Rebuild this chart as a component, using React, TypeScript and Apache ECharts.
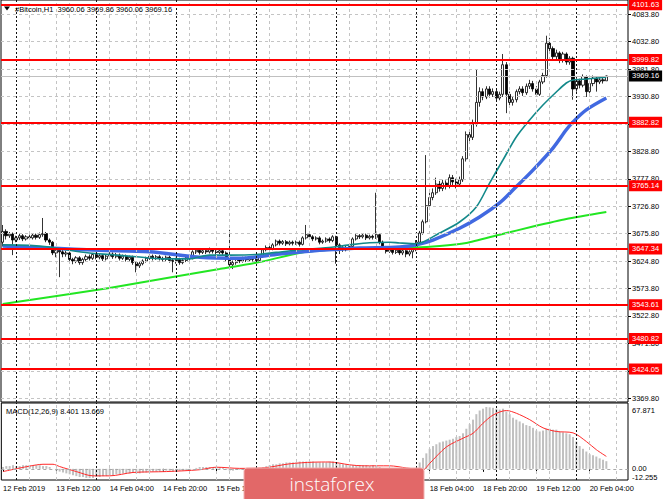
import React, { useEffect, useRef } from "react";
import * as echarts from "echarts";

const FONT = "'Liberation Sans', Arial, sans-serif";

// ---- time axis ----
const firstBarTime = Date.UTC(2019, 1, 12, 20, 0);
const slotCount = 188; // 182 bars + empty shift on the right
function pad(n: number) {
  return n < 10 ? "0" + n : "" + n;
}
const categories: string[] = Array.from({ length: slotCount }, (_, i) => {
  const d = new Date(firstBarTime + i * 3600000);
  return `${d.getUTCFullYear()}.${pad(d.getUTCMonth() + 1)}.${pad(d.getUTCDate())} ${pad(d.getUTCHours())}:00`;
});

const timeTickIndex = [0, 16, 32, 48, 64, 128, 144, 160, 176];
const timeTickText = [
  "12 Feb 2019",
  "13 Feb 12:00",
  "14 Feb 04:00",
  "14 Feb 20:00",
  "15 Feb 12:00",
  "18 Feb 04:00",
  "18 Feb 20:00",
  "19 Feb 12:00",
  "20 Feb 04:00",
];

const daySeparators = [4, 28, 52, 76, 100, 124, 148, 172];
const gridVerticals = [8, 16, 20, 32, 40, 44, 56, 64, 68, 80, 88, 92, 104, 112, 116, 128, 136, 140, 152, 160, 164, 176, 184];

// ---- price axis ----
const priceMin = 3362.8;
const priceMax = 4110.4;
const priceGrid = [4083.8, 4032.8, 3981.8, 3930.8, 3879.8, 3828.8, 3777.8, 3726.8, 3675.8, 3624.8, 3573.8, 3522.8, 3471.8, 3420.8, 3369.8];
const priceLabels = [4083.8, 4032.8, 3981.8, 3930.8, 3828.8, 3777.8, 3726.8, 3675.8, 3624.8, 3573.8, 3522.8, 3471.8, 3420.8, 3369.8];
const levelLines = [4101.63, 3999.82, 3882.82, 3765.14, 3647.34, 3543.61, 3480.82, 3424.05];
const lastPrice = 3969.16;

// ---- candles: [open, close, low, high] ----
const candles: number[][] = [
  [3660, 3680, 3652, 3692], [3680, 3672, 3665, 3684], [3672, 3675, 3668, 3679], [3675, 3664, 3636, 3678],
  [3664, 3668, 3660, 3672], [3668, 3672, 3664, 3676], [3672, 3666, 3662, 3675], [3666, 3670, 3663, 3673],
  [3670, 3668, 3664, 3674], [3668, 3673, 3665, 3677], [3673, 3669, 3665, 3676], [3669, 3674, 3666, 3678],
  [3674, 3676, 3670, 3705], [3676, 3664, 3660, 3679], [3664, 3660, 3655, 3667], [3660, 3640, 3636, 3662],
  [3640, 3645, 3632, 3648], [3645, 3642, 3595, 3649], [3642, 3638, 3632, 3646], [3638, 3640, 3633, 3644],
  [3640, 3628, 3624, 3643], [3628, 3625, 3619, 3631], [3625, 3631, 3621, 3634], [3631, 3622, 3618, 3634],
  [3622, 3628, 3618, 3631], [3628, 3633, 3625, 3637], [3633, 3630, 3626, 3637], [3630, 3637, 3627, 3640],
  [3637, 3632, 3628, 3640], [3632, 3635, 3628, 3639], [3635, 3629, 3625, 3638], [3629, 3634, 3626, 3637],
  [3634, 3638, 3630, 3642], [3638, 3633, 3629, 3641], [3633, 3636, 3630, 3640], [3636, 3630, 3626, 3639],
  [3630, 3634, 3627, 3637], [3634, 3628, 3624, 3637], [3628, 3632, 3625, 3635], [3632, 3622, 3618, 3635],
  [3622, 3616, 3604, 3625], [3616, 3620, 3612, 3624], [3620, 3625, 3617, 3628], [3625, 3630, 3622, 3633],
  [3630, 3634, 3627, 3637], [3634, 3630, 3626, 3637], [3630, 3633, 3627, 3636], [3633, 3630, 3626, 3636],
  [3630, 3628, 3624, 3633], [3628, 3632, 3625, 3635], [3632, 3626, 3622, 3635], [3626, 3624, 3604, 3629],
  [3624, 3628, 3620, 3631], [3628, 3622, 3618, 3631], [3622, 3626, 3619, 3629], [3626, 3632, 3623, 3635],
  [3632, 3630, 3626, 3635], [3630, 3642, 3628, 3645], [3642, 3645, 3638, 3649], [3645, 3641, 3637, 3648],
  [3641, 3644, 3638, 3648], [3644, 3642, 3638, 3647], [3642, 3646, 3639, 3650], [3646, 3643, 3639, 3649],
  [3643, 3641, 3637, 3647], [3641, 3644, 3638, 3648], [3644, 3640, 3636, 3647], [3640, 3628, 3624, 3643],
  [3628, 3618, 3610, 3683], [3618, 3622, 3610, 3626], [3622, 3628, 3618, 3631], [3628, 3625, 3621, 3631],
  [3625, 3630, 3622, 3633], [3630, 3627, 3623, 3633], [3627, 3631, 3624, 3634], [3631, 3628, 3624, 3634],
  [3628, 3626, 3622, 3632], [3626, 3634, 3623, 3637], [3634, 3646, 3631, 3649], [3646, 3650, 3643, 3654],
  [3650, 3648, 3644, 3653], [3648, 3655, 3645, 3658], [3655, 3662, 3652, 3665], [3662, 3658, 3654, 3665],
  [3658, 3661, 3655, 3664], [3661, 3657, 3653, 3664], [3657, 3660, 3654, 3663], [3660, 3658, 3654, 3663],
  [3658, 3660, 3655, 3663], [3660, 3656, 3652, 3663], [3656, 3668, 3654, 3671], [3668, 3674, 3665, 3692],
  [3674, 3670, 3666, 3678], [3670, 3666, 3662, 3673], [3666, 3668, 3663, 3671], [3668, 3660, 3656, 3671],
  [3660, 3662, 3657, 3665], [3662, 3666, 3659, 3669], [3666, 3663, 3659, 3669], [3663, 3670, 3660, 3673],
  [3670, 3655, 3620, 3672], [3655, 3650, 3638, 3658], [3650, 3646, 3642, 3653], [3646, 3650, 3643, 3653],
  [3650, 3652, 3646, 3655], [3652, 3666, 3650, 3669], [3666, 3672, 3663, 3675], [3672, 3670, 3666, 3675],
  [3670, 3673, 3667, 3676], [3673, 3668, 3664, 3676], [3668, 3671, 3665, 3674], [3671, 3669, 3665, 3674],
  [3669, 3674, 3666, 3752], [3674, 3660, 3656, 3677], [3660, 3650, 3646, 3663], [3650, 3643, 3639, 3653],
  [3643, 3646, 3640, 3649], [3646, 3641, 3637, 3649], [3641, 3645, 3638, 3648], [3645, 3640, 3636, 3648],
  [3640, 3644, 3636, 3647], [3644, 3638, 3632, 3647], [3638, 3642, 3634, 3645], [3642, 3646, 3630, 3649],
  [3646, 3660, 3643, 3664], [3660, 3677, 3657, 3681], [3677, 3698, 3674, 3702], [3698, 3728, 3695, 3822],
  [3728, 3743, 3722, 3752], [3743, 3752, 3738, 3760], [3752, 3768, 3748, 3780], [3768, 3760, 3754, 3774],
  [3760, 3770, 3755, 3776], [3770, 3764, 3758, 3775], [3764, 3780, 3760, 3786], [3780, 3772, 3766, 3785],
  [3772, 3768, 3760, 3778], [3768, 3776, 3763, 3782], [3776, 3815, 3772, 3820], [3815, 3860, 3810, 3866],
  [3860, 3855, 3845, 3870], [3855, 3880, 3850, 3888], [3880, 3920, 3875, 3982], [3920, 3940, 3912, 3948],
  [3940, 3930, 3924, 3946], [3930, 3945, 3926, 3950], [3945, 3935, 3929, 3950], [3935, 3940, 3930, 3946],
  [3940, 3928, 3922, 3944], [3928, 3935, 3924, 3940], [3935, 3990, 3930, 4010], [3990, 3935, 3900, 3995],
  [3935, 3920, 3915, 3940], [3920, 3925, 3914, 3930], [3925, 3940, 3920, 3944], [3940, 3945, 3935, 3950],
  [3945, 3938, 3932, 3950], [3938, 3950, 3934, 3955], [3950, 3955, 3945, 3962], [3955, 3945, 3940, 3960],
  [3945, 3935, 3930, 3950], [3935, 3958, 3932, 3962], [3958, 3970, 3954, 3975], [3970, 4030, 3966, 4044],
  [4030, 4020, 4012, 4040], [4020, 4005, 4000, 4024], [4005, 4012, 4000, 4018], [4012, 3998, 3993, 4015],
  [3998, 4010, 3994, 4014], [4010, 3995, 3990, 4013], [3995, 4002, 3990, 4006], [4002, 3945, 3925, 4005],
  [3945, 3960, 3940, 3965], [3960, 3952, 3946, 3964], [3952, 3968, 3948, 3972], [3968, 3940, 3930, 3970],
  [3940, 3955, 3936, 3960], [3955, 3965, 3950, 3970], [3965, 3958, 3940, 3968], [3958, 3962, 3954, 3966],
  [3962, 3960.06, 3955, 3966], [3960.06, 3969.16, 3960.06, 3969.86],
];

// ---- moving averages: [bar index, price] ----
const maFast: number[][] = [
  [0, 3655], [8, 3654], [14, 3651], [20, 3645], [26, 3640], [32, 3637], [40, 3633], [48, 3629], [56, 3629],
  [62, 3636], [68, 3636], [76, 3637], [82, 3641], [88, 3645], [96, 3649], [104, 3655], [110, 3659], [116, 3660],
  [119, 3658.5], [124, 3657], [131, 3677], [137, 3697.5], [142, 3725.4], [146, 3770], [150, 3812.8], [154, 3855.6],
  [158, 3887.2], [162, 3915], [166, 3939.3], [169, 3956], [171, 3961.6], [175, 3963.5], [181, 3967],
];
const maMid: number[][] = [
  [0, 3653], [14, 3649], [29, 3645], [44, 3642], [59, 3632], [71, 3630], [83, 3638], [95, 3645], [101, 3647],
  [107, 3649], [119, 3651], [124, 3655], [129, 3664], [137, 3686], [143, 3707], [149, 3733], [153, 3757],
  [159, 3794], [165, 3835], [169, 3869], [171, 3883.5], [175, 3906], [181, 3928],
];
const maSlow: number[][] = [
  [0, 3545], [32, 3574.8], [51, 3595.2], [65, 3610], [77, 3623], [89, 3640], [97, 3645.4], [109, 3649],
  [119, 3649], [131, 3652.9], [139, 3658.5], [149, 3674], [159, 3689], [169, 3703], [181, 3716],
];

// ---- MACD ----
const macdMin = -12.255;
const macdTop = 67.871;
const macdHist: number[] = [
  2, 3, 3, 4,
  3, 3, 4, 4, 4, 4, 4, 4, 3, 3,
  2, 0, -2, -3,
  -4, -5, -6, -7, -8, -9, -9, -10, -10, -10, -9, -9, -8, -8, -7,
  -7, -6, -6, -5, -5, -5, -4, -5, -5, -4, -4, -3, -3,
  -3, -3, -2, -2, -2, -3, -3, -2, -2, -2, -1,
  0, 1, 2, 2, 2, 2, 2, 2, 2, 1,
  -1, -2, -2, -1, -1, -1, -1, -1, -1,
  0, 1, 2, 3, 4, 5, 5, 6, 6, 7, 7, 7, 7, 8, 8, 8, 8, 8, 7, 7, 7, 7, 8, 8, 7,
  6, 5, 5, 4, 4, 4, 4, 4, 4, 3, 4, 3,
  2, 1, 0, 0, -1, -1, -1, -1, -2, -2, -1,
  0, 7, 12, 17, 22, 25, 27, 29, 30, 31, 32, 33, 35, 36, 39, 44, 49, 54, 60, 64,
  66, 67.871, 67.5, 67, 66, 65, 66, 63, 60, 56, 54, 52, 50, 48, 47, 45, 42, 41, 42, 44, 44, 43, 43, 41, 40, 39,
  38, 35, 30, 25, 22, 19, 16, 15, 13.5, 11.5, 10, 8.401,
];
const macdSignal: number[][] = [
  [0, -3], [8, 3], [12, 5], [15, 5], [17, 2.5], [22, -3], [27, -7.7], [32, -7.7], [39, -4], [49, -3], [59, -1],
  [64, 1.8], [71, 0.5], [78, 1], [86, 5.5], [93, 7.3], [98, 7.5], [104, 4.4], [108, 3.3], [116, 3.3], [121, 1],
  [126, -1], [128, 6], [133, 24], [138, 33.6], [141, 39], [144, 50], [147, 59], [151, 64], [154, 61], [158, 54],
  [162, 45], [166, 41], [171, 39.5], [175, 30], [178, 21], [181, 13.669],
];

const headerText = "#Bitcoin,H1  3960.06 3969.86 3960.06 3969.16";
const macdText = "MACD(12,26,9) 8.401 13.669";

const LIGHT_GRID = { color: "#c4c4c4", type: [3, 3] as number[], width: 1 };
const DARK_GRID = { color: "#111", type: [2, 2] as number[], width: 1 };

function verticalMarks() {
  return [
    ...gridVerticals.map((i) => ({ xAxis: categories[i], lineStyle: LIGHT_GRID })),
    ...daySeparators.map((i) => ({ xAxis: categories[i], lineStyle: DARK_GRID })),
  ];
}

export default function App() {
  const ref = useRef<HTMLDivElement>(null);

  useEffect(() => {
    if (!ref.current) return;
    const chart = echarts.init(ref.current, undefined, { renderer: "svg" });
    const tickSet = new Set(timeTickIndex);
    const labelSize = 7.5;

    const option: any = {
      animation: false,
      backgroundColor: "#ffffff",
      textStyle: { fontFamily: FONT },
      grid: [
        { left: 1, top: 0, width: 627, height: 402, show: true, borderColor: "#000", borderWidth: 1, backgroundColor: "#fff" },
        { left: 1, top: 403, width: 627, height: 77, show: true, borderColor: "#000", borderWidth: 1, backgroundColor: "#fff" },
      ],
      xAxis: [
        { type: "category", gridIndex: 0, data: categories, show: false, boundaryGap: true },
        {
          type: "category",
          gridIndex: 1,
          data: categories,
          boundaryGap: true,
          axisLine: { show: false },
          axisTick: {
            show: true,
            alignWithLabel: true,
            length: 3,
            interval: (i: number) => tickSet.has(i),
            lineStyle: { color: "#000" },
          },
          axisLabel: {
            interval: (i: number) => tickSet.has(i),
            formatter: (_v: string, i: number) => timeTickText[timeTickIndex.indexOf(i)] || "",
            align: "left",
            fontSize: labelSize,
            fontFamily: FONT,
            color: "#000",
            margin: 4,
            hideOverlap: false,
          },
          splitLine: { show: false },
        },
      ],
      yAxis: [
        {
          type: "value",
          gridIndex: 0,
          position: "right",
          min: priceMin,
          max: priceMax,
          axisLine: { show: false },
          splitLine: { show: false },
          axisTick: { show: true, customValues: priceGrid, length: 3, lineStyle: { color: "#000" } },
          axisLabel: {
            customValues: priceLabels,
            formatter: (v: number) => v.toFixed(2),
            fontSize: labelSize,
            fontFamily: FONT,
            color: "#000",
            margin: 4,
            hideOverlap: false,
            showMinLabel: true,
            showMaxLabel: true,
          },
        },
        {
          type: "value",
          gridIndex: 1,
          position: "right",
          min: macdMin,
          max: 72.26,
          axisLine: { show: false },
          splitLine: { show: false },
          axisTick: { show: false },
          axisLabel: {
            customValues: [macdTop, macdMin],
            formatter: (v: number) => (v > 0 ? `{t|${v.toFixed(3)}}` : `{b|${v.toFixed(3)}}`),
            margin: 4,
            hideOverlap: false,
            showMinLabel: true,
            showMaxLabel: true,
            rich: {
              t: { padding: [7, 0, 0, 0], fontSize: labelSize, fontFamily: FONT, color: "#000" },
              b: { padding: [0, 0, 6, 0], fontSize: labelSize, fontFamily: FONT, color: "#000" },
            },
          },
        },
      ],
      series: [
        {
          name: "gridMain",
          type: "line",
          xAxisIndex: 0,
          yAxisIndex: 0,
          data: [],
          z: 1,
          silent: true,
          markLine: {
            silent: true,
            symbol: ["none", "none"],
            animation: false,
            label: { show: false },
            data: [
              ...verticalMarks(),
              ...priceGrid.map((p) => ({ yAxis: p, lineStyle: LIGHT_GRID })),
            ],
          },
        },
        {
          name: "gridMacd",
          type: "line",
          xAxisIndex: 1,
          yAxisIndex: 1,
          data: [],
          z: 1,
          silent: true,
          markLine: {
            silent: true,
            symbol: ["none", "none"],
            animation: false,
            label: { show: false },
            data: [
              ...verticalMarks(),
              {
                yAxis: 0,
                name: "0.00",
                lineStyle: { color: "#a8a8a8", type: [3, 3], width: 1 },
                label: {
                  show: true,
                  position: "end",
                  distance: 4,
                  formatter: "{b}",
                  color: "#000",
                  fontSize: labelSize,
                  fontFamily: FONT,
                  padding: [0, 0, 2, 0],
                },
              },
            ],
          },
        },
        {
          name: "lastPrice",
          type: "line",
          xAxisIndex: 0,
          yAxisIndex: 0,
          data: [],
          z: 1,
          silent: true,
          markLine: {
            silent: true,
            symbol: ["none", "none"],
            animation: false,
            data: [
              {
                yAxis: lastPrice,
                name: lastPrice.toFixed(2),
                lineStyle: { color: "#c0c0c0", type: "solid", width: 1 },
                label: {
                  show: true,
                  position: "end",
                  distance: 1,
                  formatter: "{b}",
                  color: "#fff",
                  backgroundColor: "#000",
                  padding: [2, 3, 1, 3],
                  fontSize: labelSize,
                  fontFamily: FONT,
                  lineHeight: 8,
                },
              },
            ],
          },
        },
        {
          name: "Bitcoin",
          type: "candlestick",
          xAxisIndex: 0,
          yAxisIndex: 0,
          data: candles,
          barWidth: 2.6,
          z: 2,
          itemStyle: {
            color: "#ffffff",
            color0: "#000000",
            borderColor: "#000000",
            borderColor0: "#000000",
            borderWidth: 0.8,
          },
        },
        {
          name: "MA slow",
          type: "line",
          xAxisIndex: 0,
          yAxisIndex: 0,
          data: maSlow,
          smooth: 0.2,
          showSymbol: false,
          symbol: "none",
          z: 3,
          lineStyle: { color: "#22e622", width: 2 },
        },
        {
          name: "MA mid",
          type: "line",
          xAxisIndex: 0,
          yAxisIndex: 0,
          data: maMid,
          smooth: 0.3,
          showSymbol: false,
          symbol: "none",
          z: 3,
          lineStyle: { color: "#4169e1", width: 3.5 },
        },
        {
          name: "MA fast",
          type: "line",
          xAxisIndex: 0,
          yAxisIndex: 0,
          data: maFast,
          smooth: 0.3,
          showSymbol: false,
          symbol: "none",
          z: 4,
          lineStyle: { color: "#13898a", width: 1.6 },
        },
        {
          name: "levels",
          type: "line",
          xAxisIndex: 0,
          yAxisIndex: 0,
          data: [],
          z: 6,
          silent: true,
          markLine: {
            silent: true,
            symbol: ["none", "none"],
            animation: false,
            lineStyle: { color: "#ff0000", type: "solid", width: 2 },
            label: {
              show: true,
              position: "end",
              distance: 1,
              formatter: "{b}",
              color: "#fff",
              backgroundColor: "#ff0000",
              padding: [2, 3, 1, 3],
              fontSize: labelSize,
              fontFamily: FONT,
              lineHeight: 8,
            },
            data: levelLines.map((v) => ({ yAxis: v, name: v.toFixed(2) })),
          },
        },
        {
          name: "MACD",
          type: "bar",
          xAxisIndex: 1,
          yAxisIndex: 1,
          data: macdHist,
          barWidth: 2,
          z: 2,
          itemStyle: { color: "#c0c0c0" },
        },
        {
          name: "Signal",
          type: "line",
          xAxisIndex: 1,
          yAxisIndex: 1,
          data: macdSignal,
          smooth: 0.3,
          showSymbol: false,
          symbol: "none",
          z: 3,
          lineStyle: { color: "#ff2a2a", width: 1 },
        },
      ],
      graphic: [
        {
          type: "polygon",
          shape: { points: [[4, 6.5], [10, 6.5], [7, 10.5]] },
          style: { fill: "#000" },
          z: 50,
        },
        {
          type: "text",
          x: 15,
          y: 9,
          z: 50,
          style: {
            text: headerText,
            fill: "#000",
            fontSize: labelSize,
            fontFamily: FONT,
            verticalAlign: "middle",
            align: "left",
          },
        },
        {
          type: "text",
          x: 6,
          y: 411,
          z: 50,
          style: {
            text: macdText,
            fill: "#000",
            fontSize: labelSize,
            fontFamily: FONT,
            verticalAlign: "middle",
            align: "left",
          },
        },
        {
          type: "rect",
          shape: { x: 244, y: 468, width: 180, height: 40, r: 3 },
          style: { fill: "#e26868", stroke: "#f2b0b0", lineWidth: 1 },
          z: 100,
        },
        {
          type: "text",
          x: 332,
          y: 484,
          z: 101,
          style: {
            text: "instaforex",
            fill: "#ffffff",
            fontSize: 19,
            fontFamily: "'Open Sans', 'Noto Sans', sans-serif",
            fontWeight: 300,
            align: "center",
            verticalAlign: "middle",
          },
        },
      ],
    };

    chart.setOption(option);
    return () => chart.dispose();
  }, []);

  return (
    <div
      ref={ref}
      style={{ position: "fixed", left: 0, top: 0, width: 665, height: 499, background: "#fff" }}
    />
  );
}
